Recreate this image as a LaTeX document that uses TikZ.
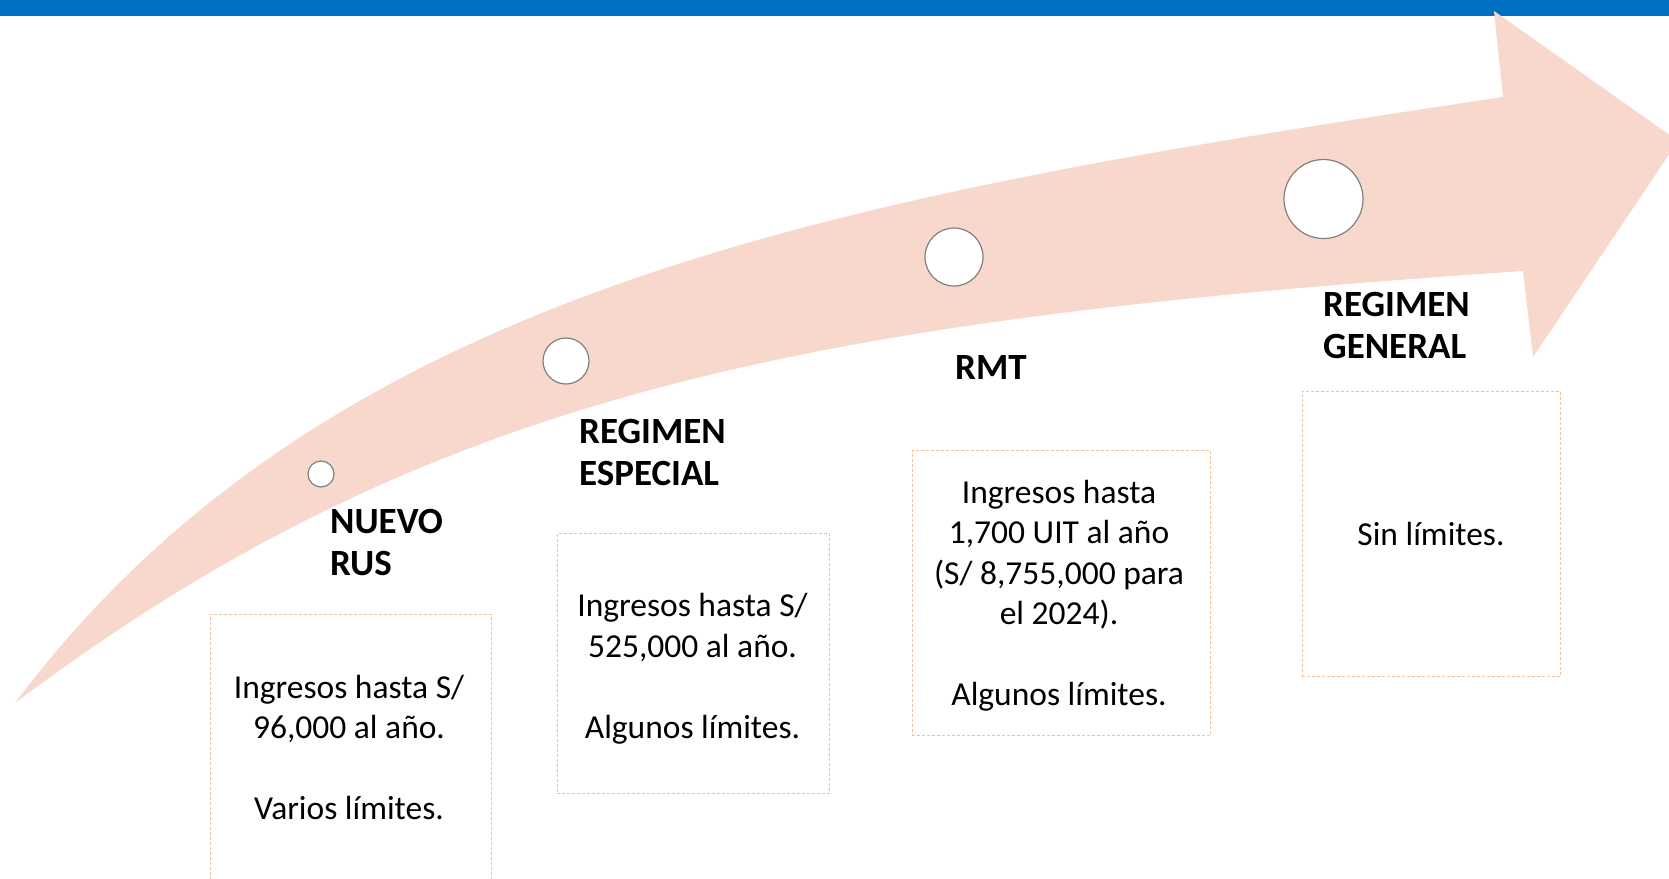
\documentclass[tikz,border=0pt]{standalone}
\usepackage{fontspec}
\setmainfont{Carlito}
\definecolor{barblue}{RGB}{0,112,192}
\definecolor{arrowpink}{RGB}{248,215,204}
\definecolor{boxorange}{RGB}{248,190,150}
\definecolor{dotgray}{RGB}{128,128,128}
\begin{document}
\begin{tikzpicture}[x=1pt,y=-1pt,
  dot/.style={circle,draw=dotgray,line width=1.2pt,fill=white,inner sep=0pt},
  infobox/.style={draw=boxorange,dash pattern=on 3pt off 2pt,line width=0.9pt,inner sep=0pt,anchor=north west},
  title/.style={anchor=base west,inner sep=0pt,font=\fontsize{37}{42}\selectfont\bfseries},
  body/.style={anchor=base,inner sep=0pt,font=\fontsize{33.5}{40.5}\selectfont}]
\useasboundingbox (0,0) rectangle (1669,878);
\clip (0,0) rectangle (1669,878);
% top bar
\fill[barblue] (0,0) rectangle (1669,16);
% big curved arrow
\fill[arrowpink] (15,703)
  .. controls (330,283) and (850,195) .. (1503,97)
  -- (1494,11) -- (1678,141) -- (1533,357) -- (1523,271)
  .. controls (800,320) and (426,394) .. (15,703)
  -- cycle;
% circles
\node[dot,minimum size=26pt] (c1) at (321,474) {};
\node[dot,minimum size=46pt] (c2) at (566,361) {};
\node[dot,minimum size=58pt] (c3) at (954,257) {};
\node[dot,minimum size=79pt] (c4) at (1323.5,199) {};
% titles
\node[title] (t1) at (330,533) {\begin{tabular}[t]{@{}l@{}}NUEVO\\RUS\end{tabular}};
\node[title] (t2) at (579,443.5) {\begin{tabular}[t]{@{}l@{}}REGIMEN\\ESPECIAL\end{tabular}};
\node[title] (t3) at (955,379) {RMT};
\node[title] (t4) at (1323,316) {\begin{tabular}[t]{@{}l@{}}REGIMEN\\GENERAL\end{tabular}};
% boxes
\node[infobox,minimum width=281pt,minimum height=300pt] (b1) at (210,614) {};
\node[infobox,minimum width=272.6pt,minimum height=259.4pt] (b2) at (556.7,533.3) {};
\node[infobox,minimum width=298.3pt,minimum height=285pt] (b3) at (911.7,450) {};
\node[infobox,minimum width=258.3pt,minimum height=285.3pt] (b4) at (1301.7,390.7) {};
% box texts
\node[body] (x1) at (349,698) {\begin{tabular}[t]{@{}c@{}}Ingresos hasta S/\\96,000 al año.\\ \\Varios límites.\end{tabular}};
\node[body] (x2) at (692.5,616.5) {\begin{tabular}[t]{@{}c@{}}Ingresos hasta S/\\525,000 al año.\\ \\Algunos límites.\end{tabular}};
\node[body] (x3) at (1059,503.3) {\begin{tabular}[t]{@{}c@{}}Ingresos hasta\\1,700 UIT al año\\(S/ 8,755,000 para\\el 2024).\\ \\Algunos límites.\end{tabular}};
\node[body] (x4) at (1431,545.7) {Sin límites.};
\end{tikzpicture}
\end{document}
